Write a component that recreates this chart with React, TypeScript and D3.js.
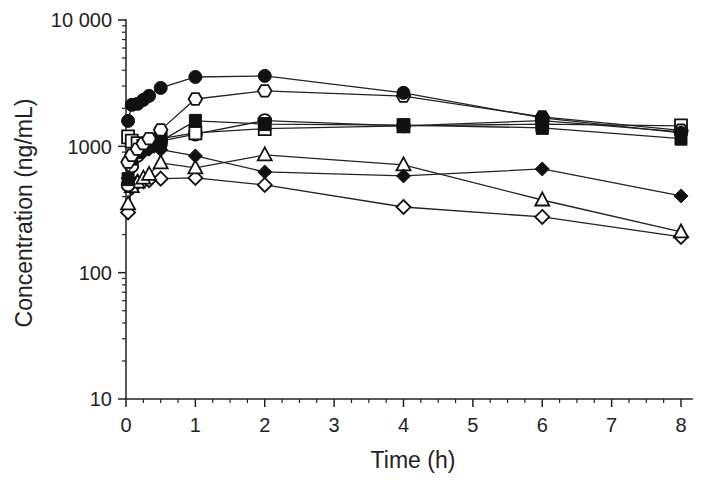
import React from "react";
import * as d3 from "d3";

const times = [0.03, 0.083, 0.167, 0.25, 0.333, 0.5, 1, 2, 4, 6, 8];

const filledDiamond = [560, 750, 850, 900, 950, 940, 840, 627, 583, 662, 405];
const openTriangle = [350, 480, 520, 560, 600, 740, 675, 855, 713, 376, 210];
const openDiamond = [300, 470, 520, 530, 540, 555, 562, 495, 331, 276, 192];
const openCircle = [495, 700, 850, 950, 1000, 1100, 1250, 1600, 1450, 1600, 1300];
const openSquare = [1190, 1100, 1050, 1000, 1050, 1150, 1280, 1380, 1450, 1500, 1450];
const filledSquare = [550, 800, 900, 950, 1000, 1100, 1590, 1500, 1470, 1400, 1150];
const openHexagon = [750, 850, 950, 1050, 1150, 1350, 2370, 2750, 2500, 1710, 1340];
const filledCircle = [1590, 2130, 2170, 2330, 2510, 2900, 3540, 3610, 2650, 1680, 1277];

type Shape = "circle" | "square" | "diamond" | "triangle" | "hexagon";
const seriesList: { values: number[]; shape: Shape; filled: boolean }[] = [
  { values: openDiamond, shape: "diamond", filled: false },
  { values: openTriangle, shape: "triangle", filled: false },
  { values: filledDiamond, shape: "diamond", filled: true },
  { values: openCircle, shape: "circle", filled: false },
  { values: openSquare, shape: "square", filled: false },
  { values: filledSquare, shape: "square", filled: true },
  { values: openHexagon, shape: "hexagon", filled: false },
  { values: filledCircle, shape: "circle", filled: true },
];

const xTicks = [0, 1, 2, 3, 4, 5, 6, 7, 8];
const yTicks = [10, 100, 1000, 10000];
const yTickLabels = ["10", "100", "1000", "10 000"];

const W = 711;
const H = 485;
const left = 126;
const right = 681;
const top = 20;
const bottom = 399;

function markerPath(shape: Shape): string {
  switch (shape) {
    case "circle":
      return "M6.5,0A6.5,6.5 0 1,1 -6.5,0A6.5,6.5 0 1,1 6.5,0Z";
    case "square":
      return "M-6,-6.5H6V6.5H-6Z";
    case "diamond":
      return "M0,-7L7,0L0,7L-7,0Z";
    case "triangle":
      return "M0,-7.5L7,5.5H-7Z";
    case "hexagon":
      return "M-3.4,-5.8H3.4L6.8,0L3.4,5.8H-3.4L-6.8,0Z";
  }
}

export default function App() {
  const x = d3.scaleLinear().domain([0, 8]).range([left, right]);
  const y = d3.scaleLog().domain([10, 10000]).range([bottom, top]);
  const line = d3
    .line<[number, number]>()
    .x((d) => x(d[0]))
    .y((d) => y(d[1]));

  const minorY: number[] = [];
  for (let p = 10; p < 10000; p *= 10) {
    for (let k = 2; k <= 9; k++) minorY.push(p * k);
  }
  const minorX = d3.range(0, 8.001, 0.25).filter((v) => Math.abs(v - Math.round(v)) > 0.01);

  const font = "'Liberation Sans', Arial, Helvetica, sans-serif";

  return (
    <svg width={W} height={H} style={{ position: "absolute", left: 0, top: 0 }}>
      <rect x={0} y={0} width={W} height={H} fill="#fff" />
      {/* axes */}
      <g stroke="#222" strokeWidth={1.5} fill="none">
        <line x1={left} x2={left} y1={top - 1} y2={bottom + 1} />
        <line x1={left - 1} x2={x(8.17)} y1={bottom} y2={bottom} />
        {yTicks.map((t) => (
          <line key={"ym" + t} x1={left - 8} x2={left} y1={y(t)} y2={y(t)} />
        ))}
        {minorY.map((t) => (
          <line key={"yn" + t} x1={left - 4} x2={left} y1={y(t)} y2={y(t)} strokeWidth={1.2} />
        ))}
        {xTicks.map((t) => (
          <line key={"xm" + t} x1={x(t)} x2={x(t)} y1={bottom} y2={bottom + 8} />
        ))}
        {minorX.map((t) => (
          <line key={"xn" + t} x1={x(t)} x2={x(t)} y1={bottom} y2={bottom + 4} strokeWidth={1.2} />
        ))}
      </g>
      <g fontFamily={font} fontSize={20} fill="#222">
        {yTicks.map((t, i) => (
          <text key={"yl" + t} x={left - 14} y={y(t)} dy="0.36em" textAnchor="end">
            {yTickLabels[i]}
          </text>
        ))}
        {xTicks.map((t) => (
          <text key={"xl" + t} x={x(t)} y={bottom + 33} textAnchor="middle">
            {t}
          </text>
        ))}
        <text x={413} y={468} textAnchor="middle" fontSize={23}>
          Time (h)
        </text>
        <text
          transform={`translate(32, 213) rotate(-90)`}
          textAnchor="middle"
          fontSize={23}
        >
          Concentration (ng/mL)
        </text>
      </g>
      {/* series */}
      {seriesList.map((s, si) => {
        const pts: [number, number][] = times.map((t, i) => [t, s.values[i]]);
        return (
          <g key={"s" + si}>
            <path d={line(pts) || ""} fill="none" stroke="#222" strokeWidth={1.3} />
            {pts.map((p, i) => (
              <path
                key={i}
                d={markerPath(s.shape)}
                transform={`translate(${x(p[0])},${y(p[1])})`}
                fill={s.filled ? "#111" : "#fff"}
                stroke="#111"
                strokeWidth={s.filled ? 1 : 1.8}
              />
            ))}
          </g>
        );
      })}
    </svg>
  );
}
